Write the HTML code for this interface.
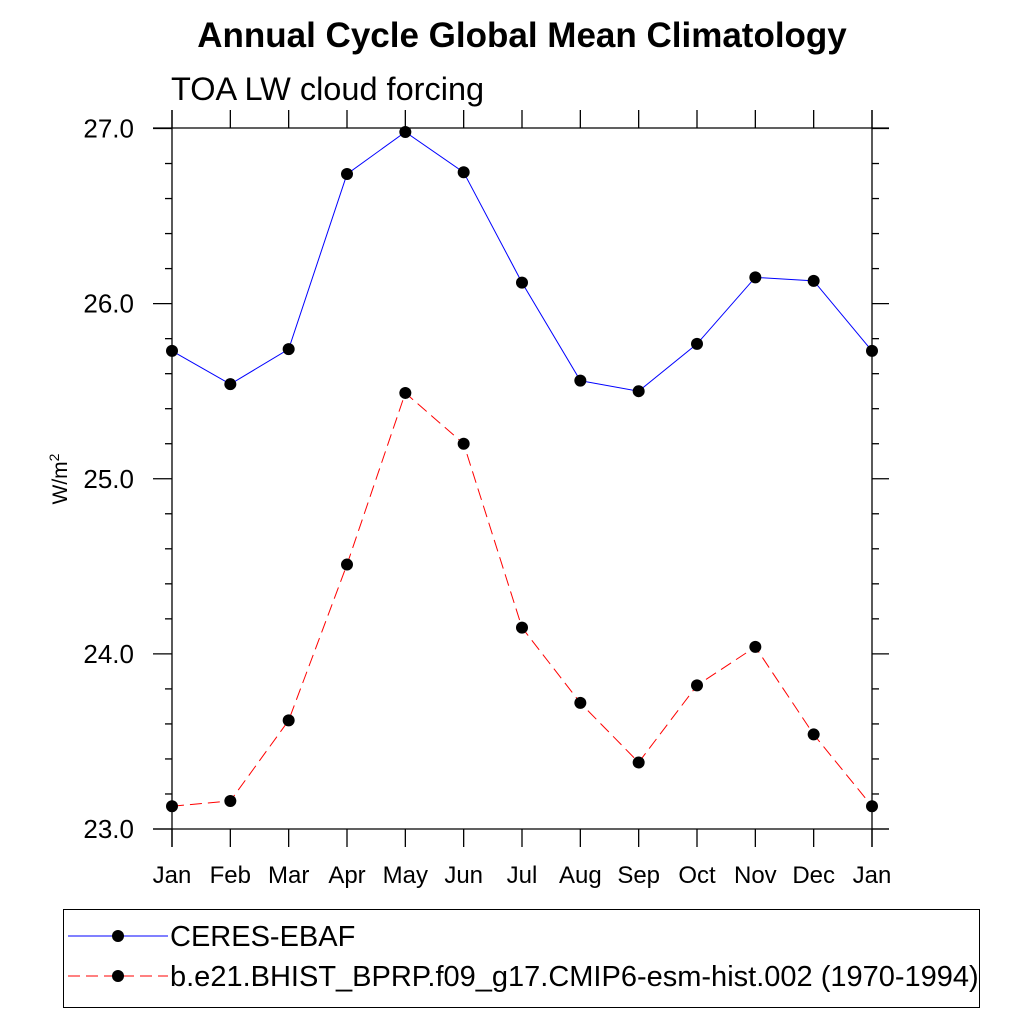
<!DOCTYPE html>
<html><head><meta charset="utf-8"><style>
body{margin:0;background:#fff}
svg text{font-family:"Liberation Sans",sans-serif}
</style></head><body>
<svg id="c" width="1024" height="1024" xmlns="http://www.w3.org/2000/svg">
<text x="522" y="47" text-anchor="middle" font-size="35" font-weight="bold">Annual Cycle Global Mean Climatology</text>
<text x="171" y="100" font-size="32.5">TOA LW cloud forcing</text>
<text transform="translate(67,479) rotate(-90)" text-anchor="middle" font-size="21">W/m<tspan dy="-8" font-size="14">2</tspan></text>
<g id="axes"></g><g id="series"></g>
<rect x="63.5" y="909.5" width="916" height="98" fill="none" stroke="#000" stroke-width="1"/>
<g>
<line x1="68" y1="936" x2="168" y2="936" stroke="#00f" stroke-width="1"/><circle cx="118" cy="936" r="6" fill="#000"/>
<text x="170" y="946" font-size="29">CERES-EBAF</text></g>
<g>
<line x1="68" y1="976" x2="168" y2="976" stroke="#f00" stroke-width="1" stroke-dasharray="12,6"/><circle cx="118" cy="976" r="6" fill="#000"/>
<text x="170" y="986" font-size="29">b.e21.BHIST_BPRP.f09_g17.CMIP6-esm-hist.002 (1970-1994)</text></g>
</svg>
<script>
const months=["Jan","Feb","Mar","Apr","May","Jun","Jul","Aug","Sep","Oct","Nov","Dec","Jan"];
const ceres=[25.73,25.54,25.74,26.74,26.98,26.75,26.12,25.56,25.50,25.77,26.15,26.13,25.73];
const model=[23.13,23.16,23.62,24.51,25.49,25.20,24.15,23.72,23.38,23.82,24.04,23.54,23.13];
const yTicks=["23.0","24.0","25.0","26.0","27.0"];
const NS="http://www.w3.org/2000/svg";
const x=i=>172+i*700/12;
const y=v=>829-(v-23)*700.5/4;
function el(t,a,p){const e=document.createElementNS(NS,t);for(const k in a)e.setAttribute(k,a[k]);p.appendChild(e);return e;}
const ax=document.getElementById('axes');
const st={stroke:"#000","stroke-width":1.3};
el('line',Object.assign({x1:153,y1:128,x2:889,y2:128},st),ax);
el('line',Object.assign({x1:153,y1:829,x2:889,y2:829},st),ax);
el('line',Object.assign({x1:172,y1:110,x2:172,y2:847},st),ax);
el('line',Object.assign({x1:872,y1:110,x2:872,y2:847},st),ax);
months.forEach((m,i)=>{
  el('line',Object.assign({x1:x(i),y1:110,x2:x(i),y2:128},st),ax);
  el('line',Object.assign({x1:x(i),y1:829,x2:x(i),y2:847},st),ax);
  const t=el('text',{x:x(i),y:883,"text-anchor":"middle","font-size":24},ax);t.textContent=m;
  
  
});
for(let k=0;k<=20;k++){const v=23+k*0.2,maj=k%5==0;
  el('line',Object.assign({x1:maj?153:165,y1:y(v),x2:172,y2:y(v)},st),ax);
  el('line',Object.assign({x1:872,y1:y(v),x2:maj?889:879,y2:y(v)},st),ax);}
yTicks.forEach(s=>{const t=el('text',{x:134,y:y(+s)+9,"text-anchor":"end","font-size":26},ax);t.textContent=s;
  
  });
const sg=document.getElementById('series');
function draw(vals,color,dash,name){
  const g=el('g',{},sg);
  
  
  el('polyline',{points:vals.map((v,i)=>x(i)+","+y(v)).join(" "),fill:"none",stroke:color,"stroke-width":1,"stroke-dasharray":dash},g);
  vals.forEach((v,i)=>{const c=el('circle',{cx:x(i),cy:y(v),r:6,fill:"#000"},g);
    
    });
}
draw(ceres,"#00f","none","series-ceres");
draw(model,"#f00","12,6","series-model");
</script>
</body></html>
